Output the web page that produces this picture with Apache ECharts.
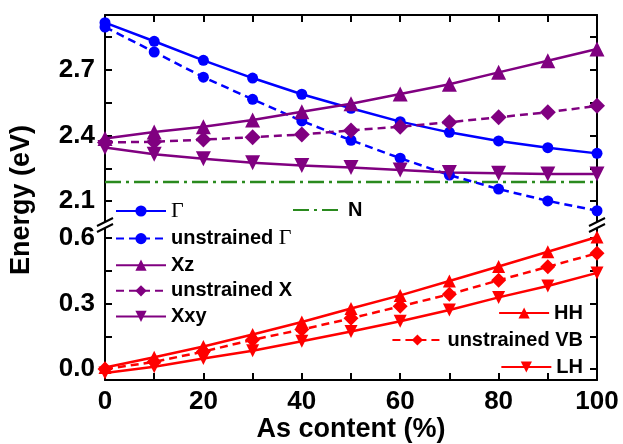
<!DOCTYPE html>
<html>
<head>
<meta charset="utf-8">
<script src="https://cdn.jsdelivr.net/npm/echarts@6/dist/echarts.min.js"></script>
<style>html,body{margin:0;padding:0;background:#fff;}#c{width:623px;height:444px;}</style>
</head>
<body>
<div id="c"></div>
<script>
// ---- data ----
var asContent = [0, 10, 20, 30, 40, 50, 60, 70, 80, 90, 100];
var gamma      = [2.915, 2.830, 2.743, 2.662, 2.588, 2.524, 2.463, 2.414, 2.375, 2.344, 2.318];
var gammaUns   = [2.895, 2.781, 2.666, 2.565, 2.466, 2.378, 2.296, 2.219, 2.155, 2.101, 2.056];
var xz         = [2.386, 2.416, 2.440, 2.470, 2.508, 2.545, 2.589, 2.634, 2.688, 2.741, 2.795];
var xUns       = [2.368, 2.371, 2.381, 2.392, 2.404, 2.423, 2.440, 2.460, 2.483, 2.506, 2.535];
var xxy        = [2.345, 2.314, 2.293, 2.275, 2.263, 2.253, 2.242, 2.231, 2.227, 2.224, 2.224];
var nLevel     = [2.187, 2.187, 2.187, 2.187, 2.187, 2.187, 2.187, 2.187, 2.187, 2.187, 2.187];
var hh         = [0.007, 0.054, 0.103, 0.158, 0.215, 0.277, 0.337, 0.403, 0.469, 0.537, 0.604];
var vbUns      = [0.000, 0.033, 0.080, 0.134, 0.181, 0.232, 0.287, 0.342, 0.406, 0.468, 0.530];
var lh         = [-0.018, 0.011, 0.048, 0.084, 0.127, 0.172, 0.219, 0.270, 0.328, 0.380, 0.440];

var xTicks = [0, 10, 20, 30, 40, 50, 60, 70, 80, 90, 100];
var xTickLabels = [0, 20, 40, 60, 80, 100];
var yTopTicks = [2.1, 2.25, 2.4, 2.55, 2.7, 2.85];
var yTopLabels = [2.1, 2.4, 2.7];
var yBotTicks = [0, 0.15, 0.3, 0.45, 0.6];
var yBotLabels = [0, 0.3, 0.6];

function pairs(arr) { return asContent.map(function (x, i) { return [x, arr[i]]; }); }

var BLUE = '#0000ff', PURPLE = '#800080', RED = '#ff0000', GREEN = '#2a8a1e';
var FONT = 'Liberation Sans';
var axisLineStyle = { color: '#000', width: 2 };

function xAx(grid, pos, labels) {
  return {
    type: 'value', gridIndex: grid, position: pos, min: 0, max: 100,
    axisLine: { show: true, onZero: false, lineStyle: axisLineStyle },
    axisTick: { show: true, inside: true, length: 7, lineStyle: { width: 2, color: '#000' }, customValues: xTicks },
    axisLabel: labels ? { show: true, customValues: xTickLabels, fontFamily: FONT, fontWeight: 'bold', fontSize: 26, color: '#000', margin: 9 } : { show: false },
    splitLine: { show: false },
    name: labels ? 'As content (%)' : '',
    nameLocation: 'middle', nameGap: 33,
    nameTextStyle: { fontFamily: FONT, fontWeight: 'bold', fontSize: 27, color: '#000' }
  };
}
function yAx(grid, pos, min, max, ticks, labels) {
  return {
    type: 'value', gridIndex: grid, position: pos, min: min, max: max,
    axisLine: { show: true, onZero: false, lineStyle: axisLineStyle },
    axisTick: { show: true, inside: true, length: 7, lineStyle: { width: 2, color: '#000' }, customValues: ticks },
    axisLabel: labels ? { show: true, customValues: labels, formatter: function (v) { return Number(v).toFixed(1); }, fontFamily: FONT, fontWeight: 'bold', fontSize: 26, color: '#000', margin: 10 } : { show: false },
    splitLine: { show: false }
  };
}
function ser(name, data, xi, yi, color, symbol, size, dashed, rot) {
  return {
    name: name, type: 'line', xAxisIndex: xi, yAxisIndex: yi, data: pairs(data),
    symbol: symbol, symbolSize: size, symbolRotate: rot || 0,
    itemStyle: { color: color },
    lineStyle: { color: color, width: 2.5, type: dashed || 'solid' },
    z: 3
  };
}

var series = [
  ser('Γ', gamma, 0, 0, BLUE, 'circle', 11),
  ser('unstrained Γ', gammaUns, 0, 0, BLUE, 'circle', 11, [8, 5]),
  ser('Xz', xz, 0, 0, PURPLE, 'triangle', 15),
  ser('unstrained X', xUns, 0, 0, PURPLE, 'diamond', 16, [8, 5]),
  ser('Xxy', xxy, 0, 0, PURPLE, 'triangle', 15, null, 180),
  { name: 'N', type: 'line', xAxisIndex: 0, yAxisIndex: 0, data: pairs(nLevel), symbol: 'none',
    itemStyle: { color: GREEN }, lineStyle: { color: GREEN, width: 2.5, type: [16, 5, 3, 5] }, z: 2 },
  ser('HH', hh, 1, 2, RED, 'triangle', 13),
  ser('unstrained VB', vbUns, 1, 2, RED, 'diamond', 15, [8, 5]),
  ser('LH', lh, 1, 2, RED, 'triangle', 13, null, 180)
];

var legendText = {
  fontFamily: FONT, fontWeight: 'bold', fontSize: 20, color: '#000', lineHeight: 20,
  rich: {
    b: { fontFamily: FONT, fontWeight: 'bold', fontSize: 20, color: '#000', lineHeight: 20 },
    g: { fontFamily: 'Liberation Serif', fontWeight: 'normal', fontSize: 22, color: '#000', lineHeight: 20 }
  }
};
function legFmt(name) {
  if (name === 'Γ') return '{g|Γ}';
  if (name === 'unstrained Γ') return '{b|unstrained }{g|Γ}';
  return '{b|' + name + '}';
}
function leg(data, pos) {
  var l = { data: data, orient: 'vertical', itemWidth: 50, itemHeight: 14, itemGap: 5.6,
    textStyle: legendText, formatter: legFmt, selectedMode: false, padding: 0 };
  for (var k in pos) l[k] = pos[k];
  return l;
}

var option = {
  backgroundColor: '#fff',
  animation: false,
  grid: [
    { left: 105, right: 26, top: 15, height: 208 },
    { left: 105, right: 26, top: 227, height: 153 }
  ],
  xAxis: [xAx(0, 'top', false), xAx(1, 'bottom', true)],
  yAxis: [
    yAx(0, 'left', 2.0, 2.95, yTopTicks, yTopLabels),
    yAx(0, 'right', 2.0, 2.95, yTopTicks, null),
    yAx(1, 'left', -0.05, 0.65, yBotTicks, yBotLabels),
    yAx(1, 'right', -0.05, 0.65, yBotTicks, null)
  ],
  legend: [
    leg(['Γ', 'unstrained Γ', 'Xz', 'unstrained X', 'Xxy'], { left: 115, top: 200 }),
    leg([{ name: 'N', itemStyle: { opacity: 0 } }], { left: 292, top: 200 }),
    leg(['HH'], { right: 40, top: 303 }),
    leg(['unstrained VB'], { right: 40, top: 330 }),
    leg(['LH'], { right: 40, top: 357 })
  ],
  graphic: [
    { type: 'rect', shape: { x: 95, y: 222, width: 20, height: 6 }, style: { fill: '#fff' }, z: 100 },
    { type: 'rect', shape: { x: 587, y: 222, width: 20, height: 6 }, style: { fill: '#fff' }, z: 100 },
    { type: 'line', shape: { x1: 97, y1: 226, x2: 113, y2: 218 }, style: { stroke: '#000', lineWidth: 2 }, z: 101 },
    { type: 'line', shape: { x1: 97, y1: 232, x2: 113, y2: 224 }, style: { stroke: '#000', lineWidth: 2 }, z: 101 },
    { type: 'line', shape: { x1: 589, y1: 226, x2: 605, y2: 218 }, style: { stroke: '#000', lineWidth: 2 }, z: 101 },
    { type: 'line', shape: { x1: 589, y1: 232, x2: 605, y2: 224 }, style: { stroke: '#000', lineWidth: 2 }, z: 101 },
    { type: 'text', x: 22, y: 200, rotation: Math.PI / 2,
      style: { text: 'Energy (eV)', font: 'bold 27px "Liberation Sans"', fill: '#000', align: 'center', verticalAlign: 'middle' } }
  ],
  series: series
};
var chart = echarts.init(document.getElementById('c'), null, { renderer: 'canvas' });
chart.setOption(option);
</script>
</body>
</html>
